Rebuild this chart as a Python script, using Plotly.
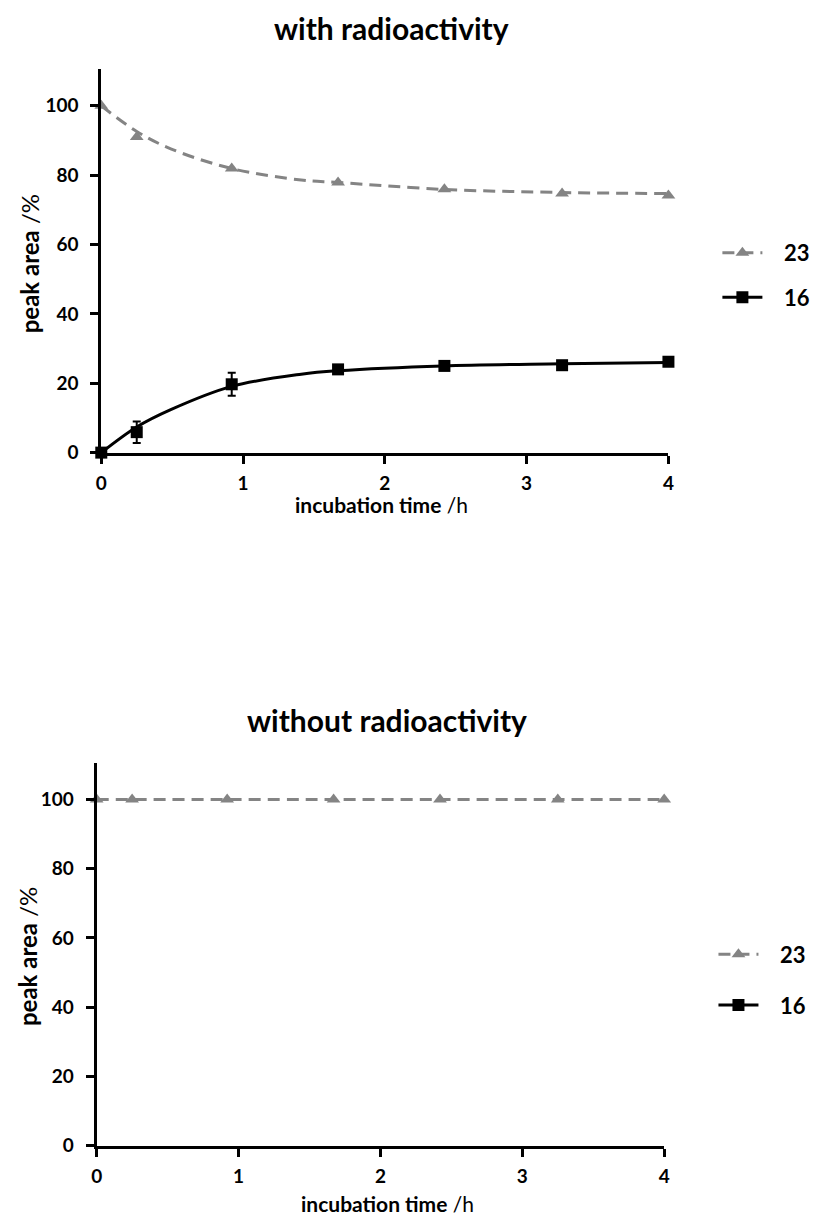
import plotly.graph_objects as go

# incubation time points (h)
time_h = [0, 0.25, 0.92, 1.67, 2.42, 3.25, 4.0]

# peak area (%) with radioactivity, measured
with_23 = [100.0, 91.0, 81.9, 77.9, 75.9, 74.7, 74.1]
with_16 = [0.0, 5.9, 19.7, 24.0, 25.0, 25.2, 26.2]
with_16_err = [0.0, 3.1, 3.3, 0.0, 0.0, 0.0, 0.0]

# fitted curves (with radioactivity)
fit_time_h = [0, 0.25, 0.49, 0.92, 1.41, 1.67, 2.41, 3.25, 4.0]
fit_with_23 = [100.0, 92.6, 87.6, 81.9, 78.6, 77.9, 75.9, 75.0, 74.7]
fit_with_16 = [0.0, 7.4, 12.4, 19.1, 22.6, 23.6, 25.0, 25.6, 26.0]

# peak area (%) without radioactivity, measured
without_23 = [100.0, 100.0, 100.0, 100.0, 100.0, 100.0, 100.0]
without_16 = [None, None, None, None, None, None, None]

# fitted curves (without radioactivity)
fit_without_23 = [100.0, 100.0, 100.0, 100.0, 100.0, 100.0, 100.0, 100.0, 100.0]
fit_without_16 = [None, None, None, None, None, None, None, None, None]

series_names = ["23", "16"]
x_ticks = [0, 1, 2, 3, 4]
y_ticks = [0, 20, 40, 60, 80, 100]

FONT = "Lato"
GREY = "#848484"
W, H = 817, 1228

style_23 = dict(line=dict(color=GREY, width=3, dash="12px,7px"),
                marker=dict(symbol="triangle-up", size=12, color=GREY))
style_16 = dict(line=dict(color="black", width=3),
                marker=dict(symbol="square", size=12, color="black"))

fig = go.Figure()

def add_panel(xa, ya, legend, y23, y16, err16, f23, f16):
    # fitted curves
    for fy, st in ((f23, style_23), (f16, style_16)):
        fig.add_trace(go.Scatter(
            x=fit_time_h, y=fy, xaxis=xa, yaxis=ya, mode="lines",
            line=dict(st["line"], shape="spline"), showlegend=False,
            cliponaxis=False, hoverinfo="skip",
        ))
    # measured points
    fig.add_trace(go.Scatter(
        x=time_h, y=y23, xaxis=xa, yaxis=ya, mode="markers",
        marker=style_23["marker"], showlegend=False, cliponaxis=False,
    ))
    tr = dict(x=time_h, y=y16, xaxis=xa, yaxis=ya, mode="markers",
              marker=style_16["marker"], showlegend=False, cliponaxis=False)
    if err16 is not None:
        tr["error_y"] = dict(type="data", array=err16, visible=True,
                             color="black", thickness=2, width=4)
    fig.add_trace(go.Scatter(**tr))
    # legend entries (line + symbol)
    for i, st in enumerate((style_23, style_16)):
        fig.add_trace(go.Scatter(
            x=[None], y=[None], xaxis=xa, yaxis=ya, mode="lines+markers",
            name="\u2003" + series_names[i], line=st["line"], marker=st["marker"],
            legend=legend, legendgroup=legend + str(i),
        ))

add_panel("x", "y", "legend", with_23, with_16, with_16_err, fit_with_23, fit_with_16)
add_panel("x2", "y2", "legend2", without_23, without_16, None, fit_without_23, fit_without_16)

def px_x(p):
    return p / W

def px_y(p):
    return 1 - p / H

axis_common = dict(
    showline=True, linecolor="black", linewidth=3, ticks="outside", ticklen=8,
    tickwidth=3, tickcolor="black", showgrid=False, zeroline=False,
    tickfont=dict(family=FONT, size=19, color="black", weight="bold"),
)

legend_font = dict(family=FONT, size=22, color="black", weight="bold")

fig.update_layout(
    width=W, height=H, margin=dict(l=0, r=0, t=0, b=0),
    paper_bgcolor="white", plot_bgcolor="white",
    font=dict(family=FONT, color="black"),
    xaxis=dict(domain=[px_x(96.7), px_x(672.3)], range=[0, 4], anchor="y",
               tickvals=x_ticks, ticklabelstandoff=4, **axis_common),
    yaxis=dict(domain=[px_y(456.7), px_y(70)], range=[0, 110.5], anchor="x",
               tickvals=y_ticks, ticklabelstandoff=8, **axis_common),
    xaxis2=dict(domain=[px_x(92), px_x(668)], range=[0, 4], anchor="y2",
                tickvals=x_ticks, ticklabelstandoff=4, **axis_common),
    yaxis2=dict(domain=[px_y(1156), px_y(770)], range=[0, 110.5], anchor="x2",
                tickvals=y_ticks, ticklabelstandoff=8, **axis_common),
    legend=dict(x=px_x(722), y=px_y(234), xanchor="left", yanchor="top",
                font=legend_font, tracegroupgap=13, itemwidth=40,
                bgcolor="rgba(0,0,0,0)"),
    legend2=dict(x=px_x(718), y=px_y(942), xanchor="left", yanchor="top",
                 font=legend_font, tracegroupgap=19, itemwidth=40,
                 bgcolor="rgba(0,0,0,0)"),
    showlegend=True,
)

def text(x, y, s, size, angle=0):
    fig.add_annotation(x=px_x(x), y=px_y(y), xref="paper", yref="paper",
                       text=s, showarrow=False, textangle=angle,
                       xanchor="center", yanchor="middle",
                       font=dict(family=FONT, size=size, color="black"))

text(391, 28, "<b>with radioactivity</b>", 30)
text(387, 727, "<b>without radioactivity</b>", 30)
text(24, 266, "<b>peak area</b> /%", 24, -90)
text(22, 965, "<b>peak area</b> /%", 24, -90)
text(381, 509, "<b>incubation time</b> /h", 21)
text(387, 1214, "<b>incubation time</b> /h", 21)

fig.write_html("out.html")
